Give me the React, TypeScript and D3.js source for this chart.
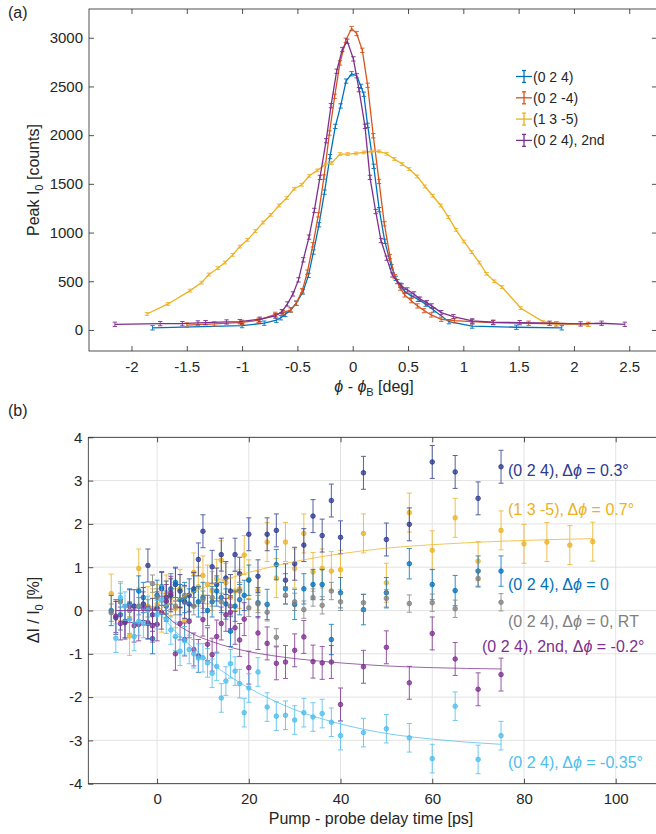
import React, { useEffect, useRef } from 'react';
import * as d3 from 'd3';

const W = 656;
const H = 834;
const FONT = '"Liberation Sans", Arial, Helvetica, sans-serif';
const INK = '#262626';

// ---------- panel (a): rocking curves, [phi - phiB (deg), counts] ----------
const blueA = [
    [-1.81, 22], [-1.0, 45], [-0.8, 70], [-0.69, 100], [-0.65, 125], [-0.61, 160], [-0.56, 205],
    [-0.51, 275], [-0.45, 390], [-0.4, 560], [-0.355, 800], [-0.305, 1080], [-0.255, 1415],
    [-0.205, 1780], [-0.157, 2090], [-0.109, 2300], [-0.06, 2555], [-0.01, 2630], [0.036, 2610],
    [0.075, 2500], [0.1, 2420], [0.135, 2100], [0.19, 1680], [0.24, 1235], [0.29, 910], [0.35, 650],
    [0.39, 530], [0.43, 460], [0.47, 395], [0.53, 350], [0.59, 315], [0.66, 265], [0.73, 205],
    [0.87, 85], [1.08, 40], [1.48, 28], [1.89, 22],
];
const orangeA = [
    [-1.5, 50], [-1.25, 62], [-1.0, 78], [-0.85, 100], [-0.7, 160], [-0.63, 178], [-0.56, 206],
    [-0.51, 274], [-0.456, 404], [-0.41, 593], [-0.36, 874], [-0.31, 1182], [-0.26, 1570],
    [-0.21, 2022], [-0.163, 2399], [-0.115, 2741], [-0.063, 2974], [-0.01, 3094], [0.036, 3043],
    [0.087, 2871], [0.135, 2512], [0.186, 1994], [0.238, 1525], [0.286, 1090], [0.337, 754],
    [0.38, 548], [0.43, 430], [0.47, 360], [0.53, 301], [0.585, 247], [0.645, 199], [0.71, 154],
    [0.8, 110], [0.92, 95], [1.08, 85], [1.27, 75], [1.59, 69], [1.84, 62], [2.13, 58],
];
const yellowA = [
    [-1.86, 164], [-1.67, 267], [-1.47, 404], [-1.365, 486], [-1.3, 569], [-1.22, 634], [-1.155, 692],
    [-1.085, 771], [-1.02, 856], [-0.95, 925], [-0.88, 1015], [-0.81, 1103], [-0.74, 1182],
    [-0.666, 1278], [-0.597, 1354], [-0.528, 1450], [-0.461, 1491], [-0.392, 1583], [-0.32, 1638],
    [-0.25, 1700], [-0.19, 1714], [-0.115, 1806], [-0.045, 1806], [0.03, 1812], [0.1, 1823],
    [0.17, 1833], [0.238, 1833], [0.307, 1809], [0.376, 1755], [0.446, 1703], [0.51, 1652],
    [0.584, 1576], [0.654, 1473], [0.723, 1378], [0.796, 1278], [0.865, 1159], [0.934, 1028],
    [1.006, 908], [1.076, 799], [1.145, 692], [1.21, 576], [1.28, 500], [1.35, 440], [1.52, 223],
    [1.72, 85], [1.85, 69], [2.13, 51],
];
const purpleA = [
    [-2.15, 58], [-1.74, 65], [-1.54, 65], [-1.4, 72], [-1.33, 75], [-1.14, 82], [-1.02, 85],
    [-0.84, 110], [-0.7, 144], [-0.64, 188], [-0.59, 267], [-0.54, 370], [-0.49, 514], [-0.447, 720],
    [-0.395, 953], [-0.347, 1227], [-0.296, 1566], [-0.24, 1943], [-0.196, 2303], [-0.145, 2656],
    [-0.094, 2879], [-0.049, 2964], [0.006, 2783], [0.057, 2467], [0.111, 2090], [0.156, 1566],
    [0.208, 1216], [0.256, 918], [0.307, 737], [0.358, 565], [0.403, 497], [0.443, 452], [0.494, 411],
    [0.554, 370], [0.609, 316], [0.67, 281], [0.714, 247], [0.8, 178], [0.91, 137], [1.08, 93],
    [1.27, 79], [1.51, 75], [1.78, 69], [2.06, 62], [2.25, 69], [2.46, 58],
];
const errA = [22, 22, 14, 22];
const namesA = ['(0 2 4)', '(0 2 -4)', '(1 3 -5)', '(0 2 4), 2nd'];
const colorsA = ['#0072BD', '#D95319', '#EDB120', '#7E2F8E'];
const xTicksA = [-2, -1.5, -1, -0.5, 0, 0.5, 1, 1.5, 2, 2.5];
const yTicksA = [0, 500, 1000, 1500, 2000, 2500, 3000];

// ---------- panel (b): transient intensity change, [delay (ps), dI/I0 (%)] ----------
const navyB = [
    [-9, -0.17], [-7, -0.28], [-5, 0.1], [-3, 0.15], [-2, 1.04], [-1, -0.1], [0, 0.05], [1, 0.5],
    [2, 0.3], [3, 0.35], [4, 0.6], [5, 0.45], [6, 0.2], [7, 0.35], [8, 0.5], [9, 1.18], [10, 1.83],
    [12, 1.01], [13, 0.6], [14, 1.29], [15, 0.75], [16, 0.45], [17, 1.29], [18, 0.85], [20, 1.76],
    [22, 0.79], [24, 1.76], [26, 1.85], [28, 0.7], [30, 1.08], [32, 1.51], [34, 2.18], [36, 1.73],
    [38, 2.54], [40, 1.69], [45, 3.18], [50, 1.64], [55, 1.99], [60, 3.43], [65, 3.2], [70, 2.59],
    [75, 3.32],
];
const yellowB = [
    [-10, 0.39], [-8, 0.22], [-6, -0.59], [-4, 0.97], [-2, 0.1], [-1, 0.05], [0, 0.15], [1, -0.05],
    [2, 0.37], [3, 0.3], [4, 0.05], [5, 0.5], [6, -0.23], [8, 0.88], [9, 0.55], [10, 0.81], [11, 0.6],
    [12, 0.45], [13, 0.73], [14, 1.16], [15, 0.64], [16, 0.3], [17, 0.45], [18, 0.5], [19, 1.28],
    [20, 0.72], [22, 0.46], [24, 1.58], [26, 0.75], [28, 1.58], [30, 0.97], [32, 1.78], [34, 0.89],
    [36, 0.97], [38, 0.91], [40, 0.94], [45, 1.78], [50, 0.64], [55, 2.26], [60, 1.39], [65, 2.14],
    [70, 1.14], [75, 1.85], [80, 1.54], [85, 1.58], [90, 1.51], [95, 1.59],
];
const blueB = [
    [-10, 0.0], [-8, -0.1], [-6, 0.15], [-4, 0.45], [-3, 0.3], [-2, -0.3], [-1, -0.65], [0, 0.35],
    [1, 0.55], [2, 0.1], [3, 0.5], [4, 0.65], [5, 0.25], [6, 0.3], [7, 0.15], [8, 0.45], [9, 0.2],
    [10, 0.3], [11, 0.0], [12, 0.2], [13, 0.45], [14, 0.3], [15, 0.15], [16, -0.48], [17, 0.1],
    [18, 0.25], [19, 0.35], [20, 0.7], [22, 0.18], [24, 0.14], [26, 1.06], [28, 0.5], [30, 0.14],
    [32, 0.5], [34, 0.6], [36, 0.6], [38, -0.67], [40, 0.41], [45, 0.02], [50, 0.41], [55, 1.08],
    [60, 0.6], [65, 0.46], [70, 0.91], [75, 0.91],
];
const grayB = [
    [-10, -0.05], [-8, 0.2], [-6, 0.0], [-4, 0.1], [-2, 0.05], [-1, 0.62], [0, 0.3], [2, 0.2],
    [4, 0.1], [6, 0.35], [8, 0.1], [10, 0.25], [12, 0.3], [14, 0.2], [16, 0.1], [18, 0.45],
    [20, 0.06], [22, 0.15], [24, -0.04], [26, -0.62], [28, 0.35], [30, 0.2], [32, 0.02], [34, 0.3],
    [36, 0.12], [38, 0.45], [40, 0.2], [45, 0.18], [50, 0.28], [55, 0.16], [60, 0.18], [65, 0.04],
    [70, 0.74], [75, 0.19],
];
const purpleB = [
    [-9, -0.13], [-8, -0.3], [-7, -0.25], [-6, 0.1], [-5, -0.35], [-4, -0.32], [-3, 0.05], [-2, -0.28],
    [-1, -0.35], [0, -0.32], [1, -0.05], [2, 0.22], [3, 0.41], [4, -1.0], [5, -0.3], [6, -0.67],
    [7, -0.25], [8, -0.9], [9, -1.05], [10, -0.21], [11, -0.78], [12, -1.02], [13, -0.6], [14, -0.3],
    [15, -0.1], [16, -0.04], [17, -0.4], [18, -0.68], [19, -0.2], [20, -1.32], [22, -0.52],
    [24, -0.76], [26, -1.22], [28, -1.19], [30, -0.92], [32, -0.61], [34, -1.18], [36, -1.21],
    [38, -1.19], [40, -2.17], [45, -1.3], [50, -0.85], [55, -1.67], [60, -0.53], [65, -1.12],
    [70, -1.82], [75, -1.48],
];
const lightB = [
    [-9, -0.64], [-8, 0.3], [-7, 0.1], [-6, -0.2], [-5, -0.6], [-4, -0.25], [-3, -0.3], [-2, 0.0],
    [0, -0.1], [1, 0.25], [2, -0.2], [3, -0.45], [4, -0.6], [5, -0.94], [6, -0.7], [7, -0.9],
    [8, -1.0], [9, -1.1], [10, -1.09], [11, -1.21], [12, -1.45], [13, -1.29], [14, -2.02],
    [15, -1.63], [16, -1.23], [17, -1.4], [18, -1.69], [19, -2.36], [20, -1.79], [22, -1.42],
    [24, -2.23], [26, -2.44], [28, -2.42], [30, -2.53], [32, -2.36], [34, -2.46], [36, -2.38],
    [38, -2.58], [40, -2.89], [45, -2.82], [50, -2.73], [55, -2.94], [60, -3.42], [65, -2.21],
    [70, -3.44], [75, -2.89],
];
const errB = [0.38, 0.45, 0.35, 0.2, 0.38, 0.33];

// exponential fits
const yellowFit = [
    [0, 0], [4, 0.23], [8, 0.43], [12, 0.6], [16, 0.75], [20, 0.88], [25, 1.01], [30, 1.13],
    [40, 1.31], [50, 1.44], [60, 1.52], [75, 1.6], [95, 1.66],
];
const purpleFit = [
    [-9, 0], [0, 0], [4, -0.3], [8, -0.55], [12, -0.72], [16, -0.85], [20, -0.95], [25, -1.04],
    [30, -1.11], [40, -1.21], [50, -1.28], [60, -1.32], [75, -1.35],
];
const lightFit = [
    [0, 0], [4, -0.48], [8, -0.88], [12, -1.23], [16, -1.53], [20, -1.79], [25, -2.06], [30, -2.29],
    [40, -2.62], [50, -2.84], [60, -2.97], [75, -3.09],
];

const colorsB = ['#2C3A91', '#EDB120', '#0072BD', '#808080', '#7E2F8E', '#4DBEEE'];
const labelPre = ['(0 2 4), Δ', '(1 3 -5), Δ', '(0 2 4), Δ', '(0 2 4), Δ', '(0 2 4), 2nd, Δ', '(0 2 4), Δ'];
const labelPost = [' = 0.3°', ' = 0.7°', ' = 0', ' = 0, RT', ' = -0.2°', ' = -0.35°'];
const xTicksB = [0, 20, 40, 60, 80, 100];
const yTicksB = [-4, -3, -2, -1, 0, 1, 2, 3, 4];

type Sel = d3.Selection<any, unknown, null, undefined>;

function styleAxis(sel: Sel) {
    sel.select('.domain').remove();
    sel.selectAll('line').attr('stroke', INK).attr('stroke-width', 0.8);
    sel.selectAll('text').attr('font-size', 15).attr('fill', INK).attr('font-family', FONT);
}

function frame(g: Sel, x: d3.ScaleLinear<number, number>, y: d3.ScaleLinear<number, number>, xt: number[], yt: number[]) {
    const [l, r] = x.range();
    const [b, t] = y.range();
    const fmt = (d: any) => String(d);
    g.append('g').attr('transform', `translate(0,${b})`)
        .call(d3.axisBottom(x).tickValues(xt).tickSize(-5).tickPadding(10).tickFormat(fmt))
        .call(styleAxis);
    g.append('g').attr('transform', `translate(0,${t})`)
        .call(d3.axisTop(x).tickValues(xt).tickSize(-5).tickFormat(() => ''))
        .call(styleAxis);
    g.append('g').attr('transform', `translate(${l},0)`)
        .call(d3.axisLeft(y).tickValues(yt).tickSize(-5).tickPadding(6).tickFormat(fmt))
        .call(styleAxis);
    g.append('g').attr('transform', `translate(${r},0)`)
        .call(d3.axisRight(y).tickValues(yt).tickSize(-5).tickFormat(() => ''))
        .call(styleAxis);
    g.append('rect').attr('x', l).attr('y', t).attr('width', r - l).attr('height', b - t)
        .attr('fill', 'none').attr('stroke', INK).attr('stroke-width', 0.8);
}

function errorBars(g: Sel, pts: number[][], err: number, x: any, y: any, color: string, cap: number, opacity: number) {
    const eb = g.append('g').attr('stroke', color).attr('stroke-width', 1).attr('opacity', opacity);
    pts.forEach(([px, py]) => {
        const cx = x(px);
        const y1 = y(py - err);
        const y2 = y(py + err);
        eb.append('line').attr('x1', cx).attr('x2', cx).attr('y1', y1).attr('y2', y2);
        eb.append('line').attr('x1', cx - cap).attr('x2', cx + cap).attr('y1', y1).attr('y2', y1);
        eb.append('line').attr('x1', cx - cap).attr('x2', cx + cap).attr('y1', y2).attr('y2', y2);
    });
}

function drawA(svg: Sel) {
    const x = d3.scaleLinear().domain([-2.384, 2.75]).range([89, 656.9]);
    const y = d3.scaleLinear().domain([-216, 3295]).range([351, 9]);
    const g = svg.append('g');
    frame(g, x, y, xTicksA, yTicksA);

    const line = d3.line<number[]>().x((d) => x(d[0])).y((d) => y(d[1]));
    [blueA, orangeA, yellowA, purpleA].forEach((pts, i) => {
        g.append('path').datum(pts).attr('d', line).attr('fill', 'none')
            .attr('stroke', colorsA[i]).attr('stroke-width', 1.3);
        errorBars(g, pts, errA[i], x, y, colorsA[i], 2.2, 0.9);
    });

    // legend
    namesA.forEach((name, i) => {
        const ly = 76.5 + i * 21.3;
        const lg = g.append('g');
        lg.append('line').attr('x1', 516).attr('x2', 532).attr('y1', ly).attr('y2', ly)
            .attr('stroke', colorsA[i]).attr('stroke-width', 1.3);
        lg.append('line').attr('x1', 524).attr('x2', 524).attr('y1', ly - 6).attr('y2', ly + 6)
            .attr('stroke', colorsA[i]).attr('stroke-width', 1.3);
        [ly - 6, ly + 6].forEach((cy) => {
            lg.append('line').attr('x1', 522).attr('x2', 526).attr('y1', cy).attr('y2', cy)
                .attr('stroke', colorsA[i]).attr('stroke-width', 1.3);
        });
        lg.append('text').attr('x', 533).attr('y', ly + 5).attr('font-size', 14).attr('fill', INK)
            .text(name);
    });

    // axis titles
    const xl = svg.append('text').attr('x', 374).attr('y', 392).attr('text-anchor', 'middle')
        .attr('font-size', 16).attr('fill', INK);
    xl.append('tspan').attr('font-style', 'italic').text('ϕ');
    xl.append('tspan').text(' - ');
    xl.append('tspan').attr('font-style', 'italic').text('ϕ');
    xl.append('tspan').attr('font-size', 11).attr('dy', 4).text('B');
    xl.append('tspan').attr('dy', -4).text(' [deg]');

    const yl = svg.append('text').attr('transform', 'translate(39,180) rotate(-90)')
        .attr('text-anchor', 'middle').attr('font-size', 16).attr('fill', INK);
    yl.append('tspan').text('Peak I');
    yl.append('tspan').attr('font-size', 11).attr('dy', 4).text('0');
    yl.append('tspan').attr('dy', -4).text(' [counts]');

    svg.append('text').attr('x', 8).attr('y', 18).attr('font-size', 16).attr('fill', INK).text('(a)');
}

function drawB(svg: Sel) {
    const x = d3.scaleLinear().domain([-15, 110]).range([88.3, 661.55]);
    const y = d3.scaleLinear().domain([-4, 4]).range([783.7, 437.3]);
    const g = svg.append('g');

    // grid
    const grid = g.append('g').attr('stroke', '#e3e3e3').attr('stroke-width', 1);
    xTicksB.forEach((t) => {
        grid.append('line').attr('x1', x(t)).attr('x2', x(t)).attr('y1', y(-4)).attr('y2', y(4));
    });
    yTicksB.forEach((t) => {
        grid.append('line').attr('x1', x(-15)).attr('x2', x(110)).attr('y1', y(t)).attr('y2', y(t));
    });

    const series = [navyB, yellowB, blueB, grayB, purpleB, lightB];
    [1, 0, 2, 3, 4, 5].forEach((i) => {
        const pts = series[i];
        errorBars(g, pts, errB[i], x, y, colorsB[i], 2.5, 0.8);
        g.append('g').selectAll('circle').data(pts).join('circle')
            .attr('cx', (d) => x(d[0])).attr('cy', (d) => y(d[1])).attr('r', 2.3)
            .attr('fill', colorsB[i]).attr('fill-opacity', 0.75)
            .attr('stroke', colorsB[i]).attr('stroke-width', 0.8);
    });

    const fitLine = d3.line<number[]>().x((d) => x(d[0])).y((d) => y(d[1])).curve(d3.curveMonotoneX);
    [
        [yellowFit, colorsB[1]],
        [purpleFit, colorsB[4]],
        [lightFit, colorsB[5]],
    ].forEach(([pts, c]: any) => {
        g.append('path').datum(pts).attr('d', fitLine).attr('fill', 'none')
            .attr('stroke', c).attr('stroke-width', 1).attr('opacity', 0.75);
    });

    frame(g, x, y, xTicksB, yTicksB);

    // series labels
    const labelPos = [[508, 470], [508, 509], [508, 584], [508, 621], [482, 646], [508, 762]];
    labelPre.forEach((pre, i) => {
        const t = svg.append('text').attr('x', labelPos[i][0]).attr('y', labelPos[i][1] + 5.5)
            .attr('font-size', 16).attr('fill', colorsB[i]);
        t.append('tspan').text(pre);
        t.append('tspan').attr('font-style', 'italic').text('ϕ');
        t.append('tspan').text(labelPost[i]);
    });

    svg.append('text').attr('x', 371).attr('y', 824).attr('text-anchor', 'middle')
        .attr('font-size', 16).attr('fill', INK).text('Pump - probe delay time [ps]');

    const yl = svg.append('text').attr('transform', 'translate(39,610) rotate(-90)')
        .attr('text-anchor', 'middle').attr('font-size', 16).attr('fill', INK);
    yl.append('tspan').text('ΔI / I');
    yl.append('tspan').attr('font-size', 11).attr('dy', 4).text('0');
    yl.append('tspan').attr('dy', -4).text(' [%]');

    svg.append('text').attr('x', 8).attr('y', 416).attr('font-size', 16).attr('fill', INK).text('(b)');
}

export default function App() {
    const svgRef = useRef<SVGSVGElement>(null);

    useEffect(() => {
        const svg = d3.select(svgRef.current) as unknown as Sel;
        svg.selectAll('*').remove();
        svg.attr('font-family', FONT);
        drawA(svg);
        drawB(svg);
    }, []);

    return (
        <div style={{ position: 'absolute', left: 0, top: 0 }}>
            <svg ref={svgRef} width={W} height={H} style={{ display: 'block', background: '#fff' }} />
        </div>
    );
}
